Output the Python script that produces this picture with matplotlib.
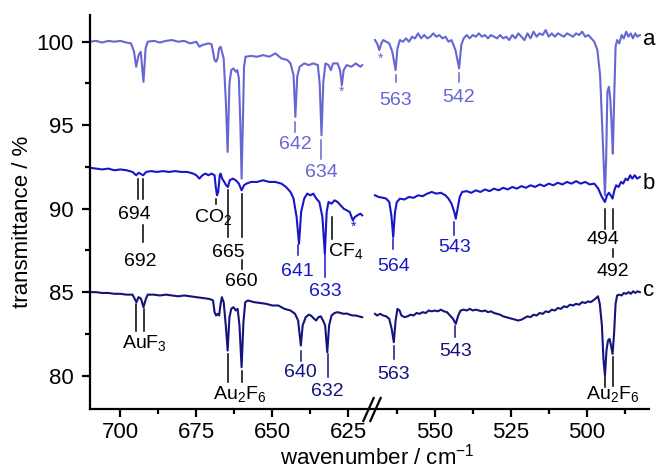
import numpy as np
import matplotlib
matplotlib.use("Agg")
import matplotlib.pyplot as plt
from matplotlib.transforms import blended_transform_factory

plt.rcParams["font.family"] = ["Liberation Sans", "DejaVu Sans"]
plt.rcParams["mathtext.fontset"] = "custom"
plt.rcParams["mathtext.rm"] = "Liberation Sans"
plt.rcParams["mathtext.it"] = "Liberation Sans:italic"

# ── Spectra (wavenumber / cm-1, transmittance / %) ──
a_left = np.array([
    (710, 100.0), (708, 100.05), (706, 99.95), (704, 100.05), (702, 100.0), (700, 100.05),
    (698, 99.95), (696.5, 99.9), (695.5, 99.4), (694.8, 98.5), (694, 99.2), (693.3, 99.4),
    (692.4, 97.6), (691.7, 99.6), (691, 100.0), (689, 100.05), (687, 99.95), (685, 100.05),
    (683, 100.1), (681, 100.0), (679, 100.05), (677, 99.9), (675, 100.0), (674, 99.7),
    (673, 99.8), (671, 99.9), (670, 99.85), (669.5, 99.4), (669, 98.9), (668.5, 98.8),
    (668, 99.0), (667.5, 99.6), (667, 99.7), (666, 99.0), (665.3, 96.5), (664.7, 93.4),
    (664.1, 97.5), (663.5, 98.3), (662.8, 98.4), (662, 98.2), (661.5, 98.3), (661, 97.8),
    (660.5, 95.0), (660.1, 91.8), (659.7, 95.0), (659.3, 98.5), (658.8, 99.1), (657, 99.15),
    (655, 99.1), (653, 99.2), (651, 99.1), (649, 99.3), (647, 99.0), (645, 98.9),
    (644, 98.7), (643, 98.0), (642.4, 95.5), (641.8, 97.9), (641, 98.5), (639.5, 98.7),
    (638, 98.6), (636.5, 98.7), (635, 98.6), (634.4, 97.5), (633.8, 94.4), (633.2, 97.6),
    (632.5, 98.7), (631.5, 98.6), (630.7, 98.3), (630, 98.7), (628.5, 98.7), (627.7, 98.3),
    (627.1, 97.4), (626.5, 98.3), (625.5, 98.6), (624, 98.5), (622.5, 98.7), (621, 98.5),
    (620.4, 98.6),
])
a_right = np.array([
    (569.7, 100.1), (569, 99.9), (568.3, 99.5), (567.6, 99.9), (567, 100.1), (566, 100.0),
    (565, 99.9), (564, 99.4), (562.9, 98.3), (562.3, 99.6), (561.5, 100.1), (560.5, 100.0),
    (559.5, 100.2), (558.5, 100.0), (557.5, 100.3), (556.5, 100.2), (555.5, 100.5), (554.5, 100.2),
    (553.5, 100.4), (552.5, 100.2), (551.5, 100.3), (550.5, 100.5), (549.5, 100.3), (548.5, 100.4),
    (547.5, 100.2), (546.5, 100.3), (545.5, 100.0), (544.5, 100.1), (543.2, 99.5), (542.0, 98.4),
    (541.3, 99.8), (540.5, 100.2), (539.5, 100.4), (538.5, 100.2), (537.5, 100.4), (536.5, 100.3),
    (535.5, 100.5), (534.5, 100.3), (533.5, 100.4), (532.5, 100.2), (531.5, 100.4), (530.5, 100.3),
    (529.5, 100.2), (528.5, 100.4), (527.5, 100.2), (526.5, 100.3), (525.5, 100.1), (524.5, 100.4),
    (523.5, 100.2), (522.5, 100.5), (521.5, 100.3), (520.5, 100.1), (519.5, 100.5), (518.5, 100.2),
    (517.5, 100.6), (516.5, 100.3), (515.5, 100.5), (514.5, 100.4), (513.5, 100.7), (512.5, 100.3),
    (511.5, 100.5), (510.5, 100.3), (509.5, 100.5), (508.5, 100.4), (507.5, 100.3), (506.5, 100.5),
    (505.5, 100.4), (504.5, 100.3), (503.5, 100.5), (502.5, 100.4), (501.5, 100.6), (500.5, 100.3),
    (499.5, 100.4), (498.5, 100.2), (497.5, 100.0), (496.5, 99.5), (495.6, 98.0), (494.8, 94.5),
    (494.0, 90.8), (493.6, 93.0), (493.2, 97.0), (492.7, 97.3), (492.2, 96.5), (491.8, 95.0),
    (491.4, 93.3), (490.9, 97.0), (490.5, 99.7), (490.0, 100.1), (489.3, 99.9), (488.5, 100.4),
    (487.8, 100.2), (487, 100.6), (486.3, 100.3), (485.5, 100.5), (484.8, 100.2), (484, 100.5),
    (483.3, 100.3), (482.5, 100.4),
])

b_left = np.array([
    (710, 92.45), (708, 92.4), (706, 92.35), (704, 92.4), (702, 92.3), (700, 92.35),
    (698, 92.3), (696, 92.2), (694.8, 92.0), (694, 92.15), (692.5, 92.0), (691.5, 92.2),
    (690, 92.25), (688, 92.2), (686, 92.25), (684, 92.2), (682, 92.25), (680, 92.2),
    (678, 92.2), (676, 92.1), (675, 92.0), (674, 91.8), (673, 92.0), (672, 92.1),
    (671, 92.0), (670, 92.1), (669, 92.0), (668.6, 91.3), (668.2, 90.8), (667.8, 91.0),
    (667.3, 92.0), (667, 92.1), (666.5, 91.8), (665.8, 91.6), (665.2, 91.4), (664.6, 91.3),
    (664, 91.7), (663, 91.8), (662, 91.7), (661, 91.5), (660.1, 91.1), (659.3, 91.4),
    (658.5, 91.5), (657, 91.6), (655, 91.6), (653, 91.7), (651, 91.6), (649, 91.6),
    (647, 91.5), (645.5, 91.3), (644, 91.0), (643, 90.6), (642, 89.5), (641.2, 87.9),
    (640.5, 89.8), (639.5, 90.6), (638.5, 90.9), (637.5, 90.8), (636.5, 90.9), (635.5, 90.6),
    (634.5, 90.4), (633.5, 89.5), (632.7, 87.3), (632.1, 89.8), (631.5, 90.4), (630.5, 90.3),
    (629.5, 90.5), (628.5, 90.4), (627.5, 90.2), (626.5, 90.0), (625.5, 89.9), (624.5, 89.8),
    (623.5, 89.3), (622.8, 89.5), (622, 89.6), (621, 89.7), (620.4, 89.6),
])
b_right = np.array([
    (569.7, 90.8), (568.5, 90.7), (567, 90.65), (566, 90.6), (565, 90.4), (564.3, 89.6),
    (563.7, 88.3), (563.1, 89.8), (562.5, 90.4), (561.5, 90.6), (560, 90.55), (558.5, 90.7),
    (557, 90.65), (555.5, 90.8), (554, 90.75), (552.5, 90.9), (551, 91.0), (549.5, 90.9),
    (548, 90.95), (546.5, 90.8), (545.5, 90.6), (544.5, 90.3), (543.6, 89.8), (543.1, 89.4),
    (542.5, 90.0), (541.8, 90.7), (541, 91.0), (539.5, 91.05), (538, 90.95), (536.5, 91.1),
    (535, 91.0), (533.5, 91.15), (532, 91.05), (530.5, 91.2), (529, 91.1), (527.5, 91.25),
    (526, 91.15), (524.5, 91.3), (523, 91.2), (521.5, 91.35), (520, 91.25), (518.5, 91.4),
    (517, 91.3), (515.5, 91.45), (514, 91.35), (512.5, 91.5), (511, 91.4), (509.5, 91.55),
    (508, 91.45), (506.5, 91.6), (505, 91.5), (503.5, 91.65), (502, 91.5), (500.5, 91.6),
    (499, 91.45), (497.5, 91.5), (496.2, 91.2), (495.0, 90.7), (494.0, 90.4), (493.3, 90.8),
    (492.7, 90.95), (492.1, 90.8), (491.5, 90.6), (490.9, 91.1), (490.3, 91.4), (489.5, 91.3),
    (488.7, 91.6), (488, 91.5), (487.2, 91.8), (486.5, 91.7), (485.7, 92.0), (485, 91.8),
    (484.2, 92.0), (483.4, 91.8), (482.5, 91.9),
])

c_left = np.array([
    (710, 85.0), (708, 85.0), (706, 84.95), (704, 84.95), (702, 84.9), (700, 84.9),
    (698, 84.85), (696, 84.85), (695.3, 84.6), (694.7, 84.4), (694, 84.7), (693.2, 84.6),
    (692.4, 84.1), (691.6, 84.6), (691, 84.85), (689, 84.85), (687, 84.8), (685, 84.85),
    (683, 84.8), (681, 84.75), (679, 84.8), (677, 84.75), (675, 84.7), (673, 84.65),
    (671, 84.6), (670, 84.55), (669.5, 84.5), (669, 83.8), (668.5, 83.6), (668, 83.7),
    (667.5, 83.6), (667, 84.3), (666.6, 84.7), (666, 84.4), (665.3, 83.0), (664.7, 81.5),
    (664.1, 83.5), (663.5, 84.0), (662.8, 84.1), (662, 83.9), (661.4, 84.0), (660.8, 83.0),
    (660.1, 80.5), (659.5, 83.2), (658.9, 84.4), (658, 84.5), (656, 84.4), (654, 84.35),
    (652, 84.3), (650, 84.2), (648, 84.2), (646, 84.0), (644, 83.9), (642.5, 83.7),
    (641.5, 83.3), (640.6, 81.8), (640.0, 83.0), (639, 83.5), (638, 83.65), (637.3, 83.6),
    (636.2, 83.4), (635.6, 83.3), (634.8, 83.5), (634, 83.55), (633.3, 83.3), (632.6, 83.0),
    (631.9, 81.4), (631.3, 83.0), (630.5, 83.6), (629.5, 83.75), (628.5, 83.8), (627.5, 83.75),
    (626.5, 83.7), (625.5, 83.72), (624.5, 83.65), (623.5, 83.6), (622.5, 83.6), (621.5, 83.55),
    (620.4, 83.5),
])
c_right = np.array([
    (569.7, 83.7), (569, 83.6), (568, 83.7), (567, 83.6), (566, 83.55), (565, 83.4),
    (564.2, 82.8), (563.5, 82.0), (562.9, 83.3), (562.3, 84.0), (561.6, 83.9), (561, 83.6),
    (560, 83.5), (559, 83.55), (558, 83.65), (557, 83.6), (556, 83.75), (555, 83.7),
    (554, 83.8), (553, 83.75), (552, 83.9), (551, 83.85), (550, 83.9), (549, 83.85),
    (548, 83.95), (547, 83.85), (546, 83.8), (545, 83.6), (544, 83.4), (543.1, 83.1),
    (542.3, 83.6), (541.5, 83.9), (540.5, 83.95), (539.5, 83.9), (538.5, 84.0), (537.5, 83.9),
    (536.5, 83.95), (535.5, 83.9), (534.5, 83.85), (533.5, 83.9), (532.5, 83.8), (531.5, 83.85),
    (530.5, 83.75), (529.5, 83.7), (528.5, 83.65), (527.5, 83.55), (526.5, 83.5), (525.5, 83.45),
    (524.5, 83.4), (523.5, 83.35), (522.6, 83.3), (521.5, 83.35), (520.5, 83.45), (519.5, 83.55),
    (518.5, 83.5), (517.5, 83.65), (516.5, 83.6), (515.5, 83.75), (514.5, 83.7), (513.5, 83.85),
    (512.5, 83.8), (511.5, 83.95), (510.5, 83.9), (509.5, 84.05), (508.5, 84.0), (507.5, 84.15),
    (506.5, 84.1), (505.5, 84.25), (504.5, 84.2), (503.5, 84.3), (502.5, 84.25), (501.5, 84.4),
    (500.5, 84.35), (499.5, 84.45), (498.7, 84.4), (497.5, 84.55), (496.3, 84.75), (495.7, 84.3),
    (495.0, 83.0), (494.5, 81.0), (494.0, 80.0), (493.5, 81.5), (493.0, 82.1), (492.5, 82.2),
    (492.0, 81.8), (491.5, 81.3), (491.0, 82.5), (490.5, 84.3), (490, 84.8), (489.3, 84.85),
    (488.5, 84.8), (487.8, 84.95), (487, 84.9), (486.2, 85.0), (485.5, 84.9), (484.7, 85.05),
    (484, 84.95), (483.3, 85.05), (482.5, 85.0),
])

# peak labels: (text, wavenumber, label baseline, tick top, tick bottom)
peaks_a = [("642", 642.4, 93.58, 95.2, 94.6), ("634", 633.8, 91.9, 94.1, 93.0),
           ("563", 562.9, 96.22, 98.0, 97.6), ("542", 542.2, 96.4, 98.1, 97.6)]
peaks_b = [("641", 641.6, 85.98, 87.8, 87.2), ("633", 632.6, 84.78, 87.2, 85.9),
           ("564", 563.7, 86.28, 88.2, 87.6), ("543", 543.6, 87.4, 89.2, 88.4)]
peaks_c = [("640", 640.6, 79.9, 81.5, 80.9), ("632", 631.8, 78.78, 81.3, 79.9),
           ("563", 563.5, 79.78, 81.8, 81.0), ("543", 543.3, 81.18, 83.0, 82.3)]
# assignment ticks (wavenumber, top, bottom) and texts (text, wavenumber, baseline)
assign_ticks = [(694.3, 91.8, 90.6), (692.6, 91.8, 90.6), (692.4, 89.0, 88.0),
                (668.5, 90.6, 90.3), (664.7, 91.1, 88.3), (660.1, 90.9, 88.3),
                (660.1, 86.9, 86.4), (630.2, 89.5, 88.2),
                (494.0, 90.0, 88.8), (491.5, 90.0, 88.8), (491.5, 87.6, 87.1),
                (694.7, 84.3, 82.7), (692.3, 84.0, 82.7),
                (664.7, 81.3, 79.6), (660.1, 80.3, 79.6),
                (494.0, 79.9, 79.3), (491.5, 81.1, 79.4)]
assign_text = [("694", 695.4, 89.38), ("692", 693.3, 86.58), ("CO$_2$", 669.4, 89.18),
               ("665", 664.5, 87.1), ("660", 660.1, 85.38), ("494", 494.6, 87.88),
               ("492", 491.3, 85.96), ("AuF$_3$", 692.2, 81.68),
               ("Au$_2$F$_6$", 660.8, 78.58), ("Au$_2$F$_6$", 491.4, 78.58)]
stars = [(627.1, 97.0, "a"), (567.9, 99.0, "a"), (623.4, 88.9, "b")]
trace_names = [("a", 99.78), ("b", 91.18), ("c", 84.78)]

x_ticks = [700, 675, 650, 625, 550, 525, 500]
x_minor = [687.5, 662.5, 637.5, 562.5, 537.5, 512.5, 487.5]
y_ticks = [80, 85, 90, 95, 100]
y_minor = [82.5, 87.5, 92.5, 97.5]

# ── broken axis: right segment shifted to sit next to the left one ──
BREAK_LEFT = 617.3
BREAK_RIGHT = 570.8
SHIFT = BREAK_LEFT - BREAK_RIGHT

def to_u(w):
    w = np.asarray(w, dtype=float)
    return np.where(w < 595, w + SHIFT, w)

COLORS = {"a": "#6666d4", "b": "#1717c8", "c": "#14147c"}
LABEL_FS = 14
AXIS_FS = 16

fig = plt.figure(figsize=(6.57, 4.74), dpi=100)
ax = fig.add_axes([90 / 657, 1 - 409 / 474, 559 / 657, 394 / 474])

for key, segs in (("a", (a_left, a_right)), ("b", (b_left, b_right)), ("c", (c_left, c_right))):
    for seg in segs:
        ax.plot(to_u(seg[:, 0]), seg[:, 1], color=COLORS[key], lw=1.5, solid_joinstyle="round")

for key, plist in (("a", peaks_a), ("b", peaks_b), ("c", peaks_c)):
    for txt, w, yb, t0, t1 in plist:
        u = float(to_u(w))
        ax.plot([u, u], [t0, t1], color=COLORS[key], lw=1.1)
        ax.text(u, yb, txt, color=COLORS[key], fontsize=LABEL_FS, ha="center", va="baseline")

for w, t0, t1 in assign_ticks:
    u = float(to_u(w))
    ax.plot([u, u], [t0, t1], color="black", lw=1.1)
for txt, w, yb in assign_text:
    ax.text(float(to_u(w)), yb, txt, color="black", fontsize=LABEL_FS, ha="center", va="baseline")
ax.text(631.5, 87.16, "CF$_4$", color="black", fontsize=LABEL_FS, ha="left", va="baseline")

for w, y, key in stars:
    ax.text(float(to_u(w)), y, "*", color=COLORS[key], fontsize=10, ha="center", va="center")

for name, yb in trace_names:
    ax.text(float(to_u(481.6)), yb, name, color="black", fontsize=AXIS_FS,
            ha="left", va="baseline", clip_on=False)

ax.set_xlim(710, float(to_u(479.5)))
ax.set_ylim(78.0, 101.6)
ax.set_xticks(to_u(x_ticks))
ax.set_xticklabels([str(t) for t in x_ticks])
ax.set_xticks(to_u(x_minor), minor=True)
ax.set_yticks(y_ticks)
ax.set_yticks(y_minor, minor=True)

for side in ("top", "right"):
    ax.spines[side].set_visible(False)
for side in ("left", "bottom"):
    ax.spines[side].set_linewidth(1.6)
ax.tick_params(which="major", length=6, width=1.6, labelsize=AXIS_FS)
ax.tick_params(which="minor", length=3.5, width=1.6)
ax.tick_params(axis="y", which="major", pad=6)
ax.tick_params(axis="x", which="major", pad=3.5)

# break marks on the x axis
trans = blended_transform_factory(ax.transData, ax.transAxes)
slash = [(-0.45, -1.0), (0.45, 1.0)]
ax.plot([BREAK_LEFT - 1.1, BREAK_LEFT + 1.1], [0, 0], transform=trans, ls="none",
        marker=slash, markersize=18, markeredgewidth=1.6, color="black", clip_on=False)

ax.set_ylabel("transmittance / %", fontsize=AXIS_FS)
ax.yaxis.set_label_coords(-0.12, 0.475)
ax.yaxis.label.set_va("center")
ax.set_xlabel("wavenumber / cm$^{-1}$", fontsize=AXIS_FS)
ax.xaxis.set_label_coords(0.514, -0.142)
ax.xaxis.label.set_va("baseline")

fig.savefig("out.png", dpi=100)
